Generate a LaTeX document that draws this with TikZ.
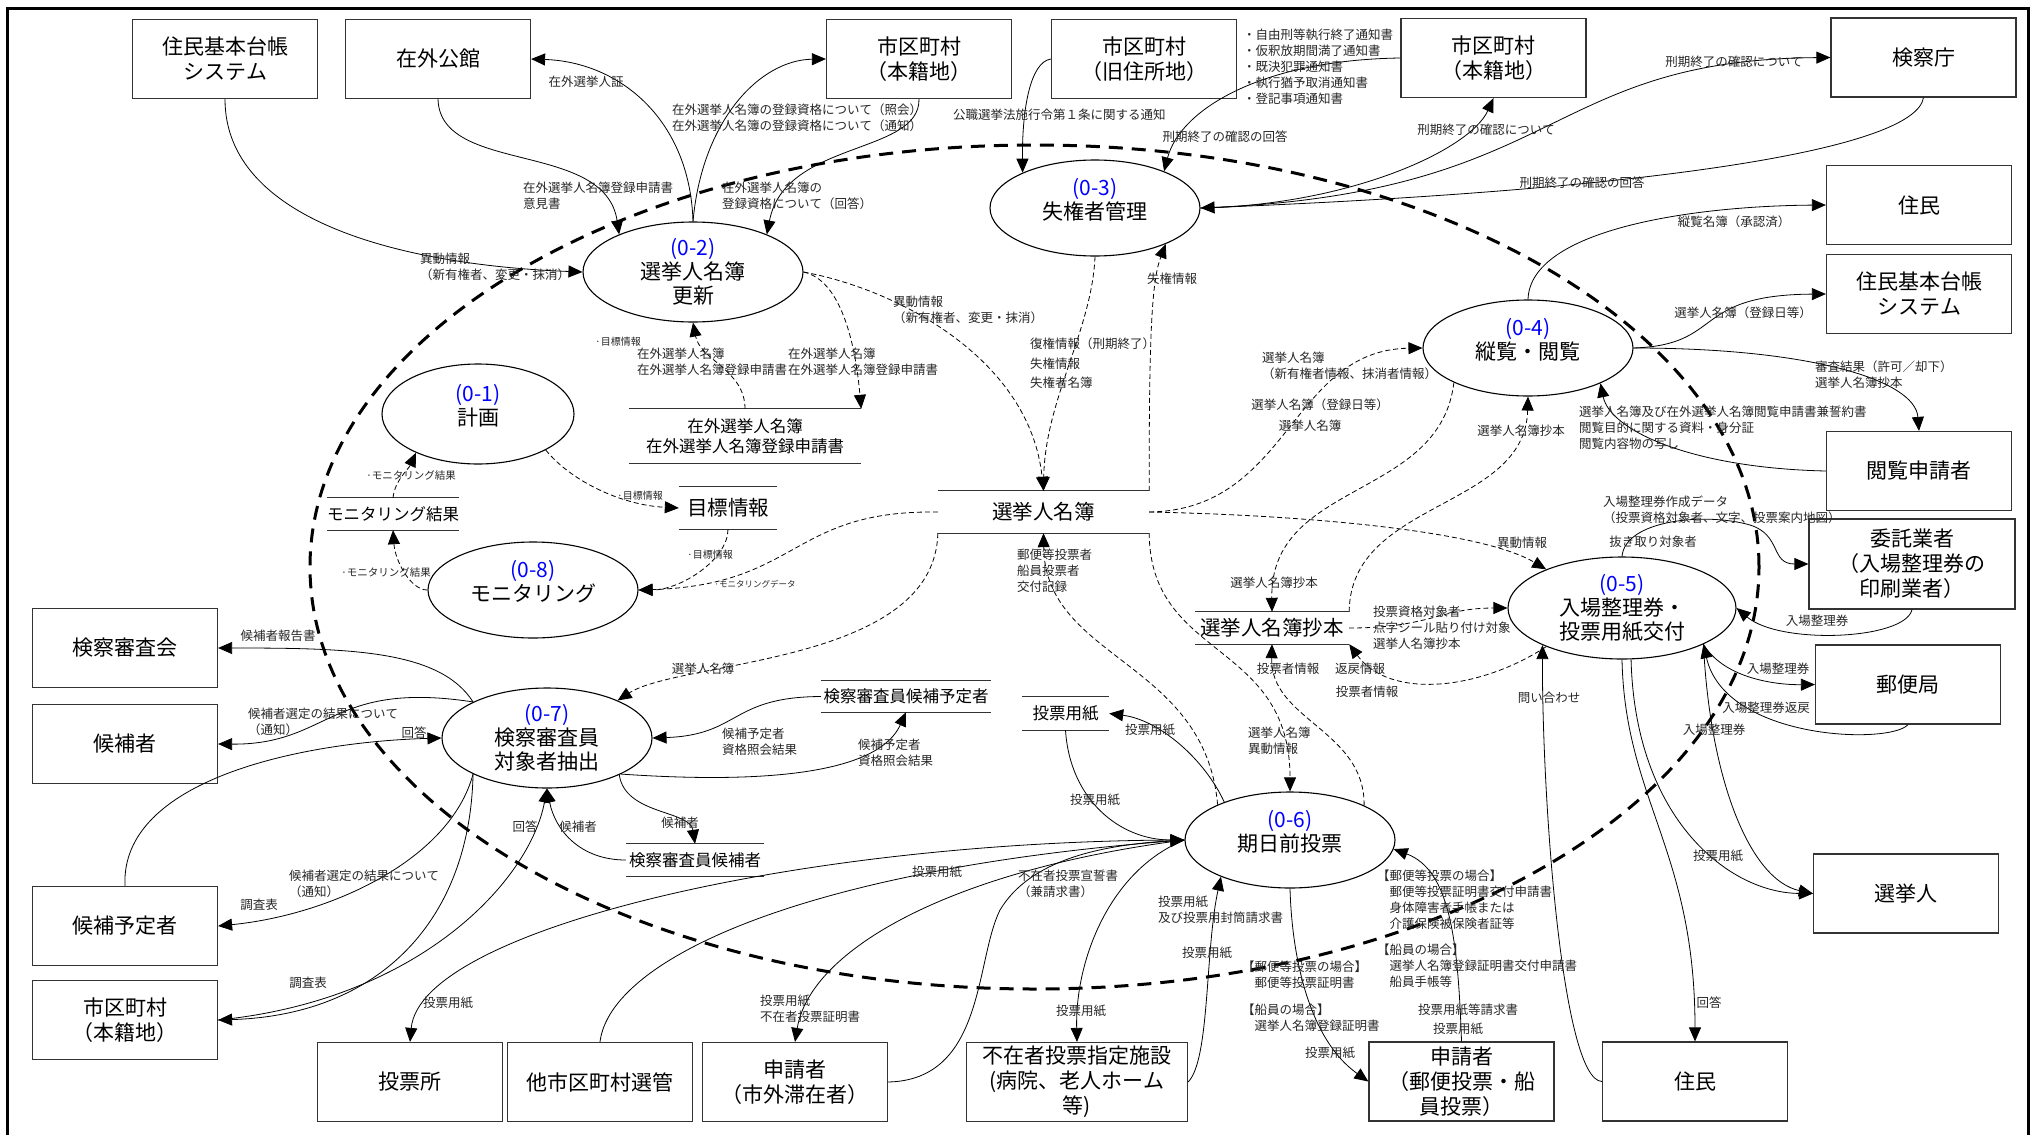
\documentclass[tikz,border=0pt]{standalone}
\usepackage{fontspec}
\setmainfont{Noto Sans CJK JP}[Kerning=Off]
\usetikzlibrary{shapes.geometric,arrows.meta}
\newcommand{\lowstrut}{\rule[-18pt]{0pt}{1pt}}
\begin{document}
\begin{tikzpicture}[x=1pt,y=-1pt,
 ent/.style={draw=black!80,line width=1.2pt,minimum width=185pt,minimum height=79pt,inner sep=0pt,align=center,font=\fontsize{21}{25}\selectfont},
 proc/.style={ellipse,draw,line width=1.1pt,inner sep=0pt,align=center,font=\fontsize{21}{24}\selectfont},
 store/.style={inner sep=0pt,align=center,font=\fontsize{16.5}{20}\selectfont},
 bigstore/.style={store,font=\fontsize{20.5}{24}\selectfont},
 lbl/.style={inner sep=0pt,align=left,text=black!85,font=\fontsize{12.5}{16}\selectfont},
 sml/.style={inner sep=0pt,text=black!85,font=\fontsize{10.5}{13}\selectfont},
 flow/.style={-{Triangle[length=14pt,width=12pt]},line width=0.8pt},
 dflow/.style={flow,dash pattern=on 5pt off 3pt},
 bound/.style={line width=3pt,dash pattern=on 14pt off 9pt}]
\useasboundingbox (0,0) rectangle (2035,1135);
\draw[line width=3pt] (7,1150) -- (7,8) -- (2028,8) -- (2028,1150);
\draw[bound] (1034.5,567) ellipse [x radius=724.5pt, y radius=422pt];

\node[ent] (jkA) at (225,59) {住民基本台帳\\システム};
\node[ent] (zgk) at (438,59) {在外公館};
\node[ent] (hsA) at (919,59) {市区町村\\（本籍地）};
\node[ent] (kyu) at (1144,59) {市区町村\\（旧住所地）};
\node[ent] (hsB) at (1493.5,58) {市区町村\\（本籍地）};
\node[ent] (ken) at (1923.5,57.5) {検察庁};
\node[ent] (jmA) at (1919,205) {住民};
\node[ent] (jkB) at (1919,294) {住民基本台帳\\システム};
\node[ent] (ets) at (1919,471) {閲覧申請者};
\node[ent,minimum width=206pt,minimum height=90pt] (itk) at (1912,564) {委託業者\\（入場整理券の\\印刷業者）};
\node[ent] (ybk) at (1908,684.5) {郵便局};
\node[ent] (snk) at (1906,893.5) {選挙人};
\node[ent] (jmB) at (1695,1081.5) {住民};
\node[ent] (sinB) at (1461.5,1081.5) {申請者\\（郵便投票・船\\員投票）};
\node[ent,minimum width=221pt] (fzs) at (1077,1082) {不在者投票指定施設\\(病院、老人ホーム\\等)};
\node[ent] (sinA) at (795,1082) {申請者\\（市外滞在者）};
\node[ent] (tsk) at (600,1082) {他市区町村選管};
\node[ent] (tjs) at (410,1082) {投票所};
\node[ent] (hsC) at (125,1020) {市区町村\\（本籍地）};
\node[ent] (kyt) at (125,926) {候補予定者};
\node[ent] (khs) at (125,744) {候補者};
\node[ent] (ksk) at (125,648) {検察審査会};

\node[proc,minimum width=192pt,minimum height=100pt] (p1) at (478,414) {\textcolor{blue}{(0-1)}\\計画\lowstrut};
\node[proc,minimum width=220pt,minimum height=100pt] (p2) at (693,272) {\textcolor{blue}{(0-2)}\\選挙人名簿\\更新};
\node[proc,minimum width=210pt,minimum height=96pt] (p3) at (1095,208) {\textcolor{blue}{(0-3)}\\失権者管理\lowstrut};
\node[proc,minimum width=210pt,minimum height=96pt] (p4) at (1528,348) {\textcolor{blue}{(0-4)}\\縦覧・閲覧\lowstrut};
\node[proc,minimum width=228pt,minimum height=102pt] (p5) at (1622,608) {\textcolor{blue}{(0-5)}\\入場整理券・\\投票用紙交付};
\node[proc,minimum width=210pt,minimum height=96pt] (p6) at (1290,840) {\textcolor{blue}{(0-6)}\\期日前投票\lowstrut};
\node[proc,minimum width=210pt,minimum height=100pt] (p7) at (547,738) {\textcolor{blue}{(0-7)}\\検察審査員\\対象者抽出};
\node[proc,minimum width=210pt,minimum height=96pt] (p8) at (533,590) {\textcolor{blue}{(0-8)}\\モニタリング\lowstrut};

\node[store,minimum width=232pt,minimum height=54pt] (s1) at (745,436) {在外選挙人名簿\\在外選挙人名簿登録申請書};
\node[bigstore,minimum width=98pt,minimum height=42pt] (s2) at (728,508) {目標情報};
\node[bigstore,minimum width=211pt,minimum height=42pt] (s3) at (1043.5,512) {選挙人名簿};
\node[bigstore,minimum width=154pt,minimum height=32pt] (s4) at (1272,628) {選挙人名簿抄本};
\node[store,minimum width=124pt,minimum height=32pt] (s5) at (393,514) {モニタリング結果};
\node[store,minimum width=170pt,minimum height=31pt] (s6) at (906,696.5) {検察審査員候補予定者};
\node[store,minimum width=138pt,minimum height=32pt] (s7) at (695,860) {検察審査員候補者};
\node[store,minimum width=87pt,minimum height=33pt] (s8) at (1065.5,713.5) {投票用紙};
\foreach \s in {s1,s2,s3,s4,s5,s6,s7,s8}
 \draw[line width=1.1pt,black!80] (\s.north west) -- (\s.north east) (\s.south west) -- (\s.south east);

\draw[flow] (jkA.south) .. controls (225,220) and (400,265) .. (p2.west);
\draw[flow] (zgk.south) .. controls (440,175) and (605,140) .. (p2.153);
\draw[flow] (p2.north) .. controls (690,120) and (620,62) .. (zgk.east);
\draw[flow] (p2.north) .. controls (702,120) and (760,60) .. (hsA.west);
\draw[flow] (hsA.south) .. controls (920,155) and (785,140) .. (p2.27);
\draw[flow] (kyu.west) .. controls (1030,62) and (1022,110) .. (p3.154);
\draw[flow] (hsB.west) .. controls (1260,60) and (1180,110) .. (p3.28);
\draw[flow] (p3.east) .. controls (1350,205) and (1470,150) .. (hsB.south);
\draw[flow] (p3.east) .. controls (1565,195) and (1540,60) .. (ken.west);
\draw[flow] (ken.south) .. controls (1915,150) and (1650,190) .. (p3.east);
\draw[flow] (p4.north) .. controls (1530,230) and (1690,206) .. (jmA.west);
\draw[flow] (p4.east) .. controls (1725,345) and (1690,295) .. (jkB.west);
\draw[flow] (p4.east) .. controls (1810,348) and (1915,380) .. (ets.north);
\draw[flow] (ets.west) .. controls (1690,468) and (1610,430) .. (p4.-26);

\draw[dflow] (s3.east) .. controls (1290,510) and (1290,350) .. (p4.west);
\draw[dflow] (s3.east) .. controls (1300,515) and (1480,530) .. (p5.153);
\draw[dflow] (p4.205) .. controls (1440,500) and (1270,480) .. (s4.north);
\draw[dflow] (s4.north east) .. controls (1350,500) and (1525,510) .. (p4.south);
\draw[dflow] (s4.east) .. controls (1430,628) and (1440,608) .. (p5.west);
\draw[dflow] (p5.207) .. controls (1480,690) and (1390,700) .. (s4.south east);
\draw[dflow] (p6.25) .. controls (1365,730) and (1270,720) .. (s4.south);
\draw[dflow] (s3.south east) .. controls (1150,660) and (1290,640) .. (p6.north);
\draw[dflow] (p6.154) .. controls (1205,660) and (1045,660) .. (s3.south);
\draw[dflow] (p3.south) .. controls (1092,330) and (1045,400) .. (s3.north);
\draw[dflow] (s3.north east) .. controls (1149,330) and (1152,280) .. (p3.-27);
\draw[dflow] (p2.east) .. controls (900,290) and (1030,360) .. (s3.north);
\draw[dflow] (p2.east) .. controls (840,280) and (855,340) .. (s1.north east);
\draw[dflow] (s1.north) .. controls (745,370) and (700,360) .. (p2.south);
\draw[dflow] (p1.-28) .. controls (570,480) and (620,505) .. (s2.west);
\draw[dflow] (s2.south) .. controls (728,560) and (680,590) .. (p8.east);
\draw[dflow] (s3.west) .. controls (790,510) and (800,585) .. (p8.east);
\draw[dflow] (p8.west) .. controls (410,590) and (395,560) .. (s5.south);
\draw[dflow] (s5.north) .. controls (395,480) and (408,470) .. (p1.212);
\draw[dflow] (s3.south west) .. controls (935,665) and (680,660) .. (p7.28);

\draw[flow] (s6.west) .. controls (730,697) and (740,735) .. (p7.east);
\draw[flow] (p7.-26) .. controls (780,785) and (880,770) .. (s6.south);
\draw[flow] (p7.-27) .. controls (625,815) and (690,810) .. (s7.north);
\draw[flow] (s7.west) .. controls (580,860) and (555,830) .. (p7.south);
\draw[flow] (kyt.north) .. controls (120,780) and (300,742) .. (p7.west);
\draw[flow] (p7.154) .. controls (330,680) and (330,745) .. (khs.east);
\draw[flow] (p7.154) .. controls (440,650) and (350,648) .. (ksk.east);
\draw[flow] (p7.206) .. controls (450,860) and (330,915) .. (kyt.east);
\draw[flow] (p7.206) .. controls (470,920) and (380,1015) .. (hsC.east);
\draw[flow] (hsC.east) .. controls (420,1000) and (530,880) .. (p7.south);

\draw[flow] (p6.west) .. controls (800,840) and (420,930) .. (tjs.north);
\draw[flow] (tsk.north) .. controls (610,960) and (800,870) .. (p6.west);
\draw[flow] (p6.west) .. controls (950,870) and (810,950) .. (sinA.north);
\draw[flow] (sinA.east) .. controls (985,1080) and (975,960) .. (1000,910) .. controls (1030,860) and (1100,845) .. (p6.west);
\draw[flow] (p6.west) .. controls (1110,870) and (1075,960) .. (fzs.north);
\draw[flow] (fzs.east) .. controls (1210,1060) and (1205,950) .. (p6.208);
\draw[flow] (p6.south) .. controls (1292,960) and (1310,1040) .. (sinB.west);
\draw[flow] (sinB.north) .. controls (1458,940) and (1450,870) .. (p6.-5);
\draw[flow] (p6.150) .. controls (1205,760) and (1160,720) .. (s8.east);
\draw[flow] (s8.south) .. controls (1070,800) and (1120,840) .. (p6.west);

\draw[flow] (jmB.west) .. controls (1562,1080) and (1542,800) .. (p5.205);
\draw[flow] (p5.south) .. controls (1625,800) and (1695,850) .. (jmB.north);
\draw[flow] (p5.-80) .. controls (1635,820) and (1730,893) .. (snk.west);
\draw[flow] (p5.-24) .. controls (1725,680) and (1780,685) .. (ybk.west);
\draw[flow] (ybk.south) .. controls (1890,745) and (1725,740) .. (p5.-24);
\draw[flow] (p5.-24) .. controls (1710,780) and (1750,880) .. (snk.west);
\draw[flow] (p5.north) .. controls (1625,520) and (1705,512) .. (1750,525) .. controls (1782,535) and (1770,564) .. (itk.west);
\draw[flow] (itk.south) .. controls (1905,640) and (1780,645) .. (p5.east);

\node[lbl,anchor=west] (lb01) at (420,266.5) {異動情報\\（新有権者、変更・抹消）};
\node[lbl,anchor=west] (lb02) at (523,195.5) {在外選挙人名簿登録申請書\\意見書};
\node[lbl] (lb03) at (586,82) {在外選挙人証};
\node[lbl,anchor=west] (lb04) at (672,118) {在外選挙人名簿の登録資格について（照会）\\在外選挙人名簿の登録資格について（通知）};
\node[lbl,anchor=west] (lb05) at (722,195.5) {在外選挙人名簿の\\登録資格について（回答）};
\node[lbl,anchor=west] (lb06) at (953,115) {公職選挙法施行令第１条に関する通知};
\node[lbl,anchor=west] (lb07) at (1243,67) {・自由刑等執行終了通知書\\・仮釈放期間満了通知書\\・既決犯罪通知書\\・執行猶予取消通知書\\・登記事項通知書};
\node[lbl] (lb08) at (1225,137) {刑期終了の確認の回答};
\node[lbl] (lb09) at (1486,130) {刑期終了の確認について};
\node[lbl] (lb10) at (1734,62) {刑期終了の確認について};
\node[lbl] (lb11) at (1582,183) {刑期終了の確認の回答};
\node[lbl] (lb12) at (1734,222) {縦覧名簿（承認済）};
\node[lbl] (lb13) at (1743,313) {選挙人名簿（登録日等）};
\node[lbl,anchor=west] (lb14) at (1815,375) {審査結果（許可／却下）\\選挙人名簿抄本};
\node[lbl,anchor=west] (lb15) at (1579,427.5) {選挙人名簿及び在外選挙人名簿閲覧申請書兼誓約書\\閲覧目的に関する資料・身分証\\閲覧内容物の写し};
\node[lbl,anchor=west] (lb16) at (1262,365.5) {選挙人名簿\\（新有権者情報、抹消者情報）};
\node[lbl] (lb17) at (1320,405) {選挙人名簿（登録日等）};
\node[lbl] (lb18) at (1310,426) {選挙人名簿};
\node[lbl] (lb19) at (1521,431) {選挙人名簿抄本};
\node[lbl] (lb20) at (1274,583) {選挙人名簿抄本};
\node[lbl] (lb21) at (1522,543) {異動情報};
\node[lbl,anchor=west] (lb22) at (1373,627.5) {投票資格対象者\\点字シール貼り付け対象\\選挙人名簿抄本};
\node[lbl] (lb23) at (1360,669) {返戻情報};
\node[lbl] (lb24) at (1367,692) {投票者情報};
\node[lbl] (lb25) at (1288,669) {投票者情報};
\node[lbl,anchor=west] (lb26) at (1248,740.5) {選挙人名簿\\異動情報};
\node[lbl,anchor=west] (lb27) at (1017,570.5) {郵便等投票者\\船員投票者\\交付記録};
\node[lbl,anchor=west,font=\fontsize{12.5}{19.5}\selectfont] (lb28) at (1030,363.5) {復権情報（刑期終了）\\失権情報\\失権者名簿};
\node[lbl] (lb29) at (1172,279) {失権情報};
\node[lbl,anchor=west] (lb30) at (893,309.5) {異動情報\\（新有権者、変更・抹消）};
\node[lbl,anchor=west] (lb31) at (788,361.5) {在外選挙人名簿\\在外選挙人名簿登録申請書};
\node[lbl,anchor=west] (lb32) at (637,361.5) {在外選挙人名簿\\在外選挙人名簿登録申請書};
\node[sml,font=\fontsize{10}{12}\selectfont] (lb33) at (618,342) {·目標情報};
\node[sml,font=\fontsize{10}{12}\selectfont] (lb34) at (640,496) {·目標情報};
\node[sml,font=\fontsize{10}{12}\selectfont] (lb35) at (710,555) {·目標情報};
\node[sml,font=\fontsize{8.5}{10}\selectfont] (lb36) at (755,584) {·モニタリングデータ};
\node[sml] (lb37) at (386,573) {·モニタリング結果};
\node[sml] (lb38) at (411,476) {·モニタリング結果};
\node[lbl] (lb39) at (703,669) {選挙人名簿};
\node[lbl,anchor=west] (lb40) at (722,742) {候補予定者\\資格照会結果};
\node[lbl,anchor=west] (lb41) at (858,753) {候補予定者\\資格照会結果};
\node[lbl] (lb42) at (680,823) {候補者};
\node[lbl] (lb43) at (578,827) {候補者};
\node[lbl] (lb44) at (525,827) {回答};
\node[lbl] (lb45) at (414,733) {回答};
\node[lbl,anchor=west] (lb46) at (248,722) {候補者選定の結果について\\（通知）};
\node[lbl] (lb47) at (278,636) {候補者報告書};
\node[lbl,anchor=west] (lb48) at (289,884) {候補者選定の結果について\\（通知）};
\node[lbl] (lb49) at (259,905) {調査表};
\node[lbl] (lb50) at (308,983) {調査表};
\node[lbl] (lb51) at (448,1003) {投票用紙};
\node[lbl] (lb52) at (937,872) {投票用紙};
\node[lbl,anchor=west] (lb53) at (760,1008.5) {投票用紙\\不在者投票証明書};
\node[lbl,anchor=west] (lb54) at (1018,884) {不在者投票宣誓書\\（兼請求書）};
\node[lbl] (lb55) at (1081,1011) {投票用紙};
\node[lbl,anchor=west] (lb56) at (1158,910) {投票用紙\\及び投票用封筒請求書};
\node[lbl] (lb57) at (1207,953) {投票用紙};
\node[lbl,anchor=west] (lb58) at (1242,974.5) {【郵便等投票の場合】\\　郵便等投票証明書};
\node[lbl,anchor=west] (lb59) at (1242,1018) {【船員の場合】\\　選挙人名簿登録証明書};
\node[lbl] (lb60) at (1330,1053) {投票用紙};
\node[lbl,anchor=west] (lb61) at (1377,900) {【郵便等投票の場合】\\　郵便等投票証明書交付申請書\\　身体障害者手帳または\\　介護保険被保険者証等};
\node[lbl,anchor=west] (lb62) at (1377,966) {【船員の場合】\\　選挙人名簿登録証明書交付申請書\\　船員手帳等};
\node[lbl] (lb63) at (1468,1010) {投票用紙等請求書};
\node[lbl] (lb64) at (1458,1029) {投票用紙};
\node[lbl] (lb65) at (1549,698) {問い合わせ};
\node[lbl] (lb66) at (1709,1003) {回答};
\node[lbl] (lb67) at (1718,856) {投票用紙};
\node[lbl] (lb68) at (1714,730) {入場整理券};
\node[lbl] (lb69) at (1778,669) {入場整理券};
\node[lbl] (lb70) at (1766,708) {入場整理券返戻};
\node[lbl,anchor=west] (lb71) at (1603,510) {入場整理券作成データ\\（投票資格対象者、文字、投票案内地図）};
\node[lbl] (lb72) at (1653,542) {抜き取り対象者};
\node[lbl] (lb73) at (1817,621) {入場整理券};
\node[lbl] (lb74) at (1150,730) {投票用紙};
\node[lbl] (lb75) at (1095,800) {投票用紙};
\end{tikzpicture}
\end{document}
